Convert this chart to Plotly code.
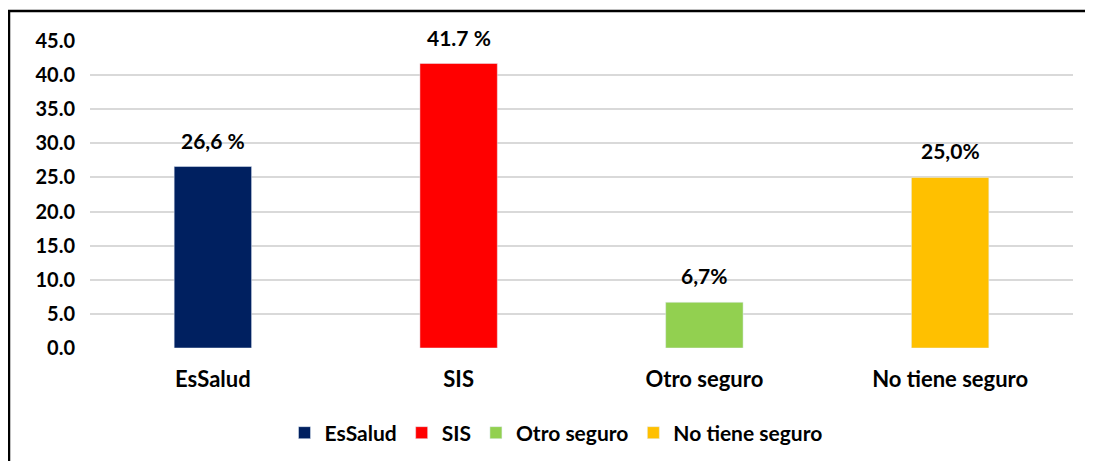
import plotly.graph_objects as go

categories = ["EsSalud", "SIS", "Otro seguro", "No tiene seguro"]
values = [26.6, 41.7, 6.7, 25.0]
labels = ["26,6 %", "41.7 %", "6,7%", "25,0%"]
colors = ["#002060", "#FF0000", "#92D050", "#FFC000"]
y_ticks = [0, 5, 10, 15, 20, 25, 30, 35, 40, 45]

FONT = "Lato"
# page body has an 8px margin, so the figure is sized/positioned to compensate
W, H = 1085, 453
L, R, T, B = 82, 20, 33, 113
pw = W - L - R
ph = H - T - B

fig = go.Figure()
for c, v, col in zip(categories, values, colors):
    fig.add_trace(go.Bar(x=[c], y=[v], name=c, marker_color=col, width=0.315,
                         hoverinfo="x+y"))

for c, v, lab in zip(categories, values, labels):
    fig.add_annotation(x=c, y=v, text=lab, showarrow=False, yanchor="bottom",
                       yshift=12, font=dict(family=FONT, size=21, color="#000000", weight="bold"))

# outer border
fig.add_shape(type="rect", xref="paper", yref="paper",
              x0=(1 - L) / pw, x1=(W + 20 - L) / pw,
              y0=-1.0, y1=(H - B - 3) / ph,
              line=dict(color="#000000", width=2.5), fillcolor="rgba(0,0,0,0)", layer="above")

fig.update_layout(
    width=W, height=H,
    margin=dict(l=L, r=R, t=T, b=B, autoexpand=False),
    plot_bgcolor="white", paper_bgcolor="white",
    barmode="overlay",
    font=dict(family=FONT, size=20, color="#000000", weight="bold"),
    showlegend=True,
    legend=dict(orientation="h", x=(548 - L) / pw, xanchor="center", y=(H - B - 425) / ph,
                yanchor="middle",
                font=dict(family=FONT, size=21, color="#000000", weight="bold"),
                itemwidth=30, traceorder="normal"),
    xaxis=dict(categoryorder="array", categoryarray=categories, showgrid=False,
               showline=False, ticks="", tickfont=dict(family=FONT, size=22, weight="bold"),
               ticklabelstandoff=16, automargin=False),
    yaxis=dict(range=[0, 45], tickvals=y_ticks, tickformat=".1f", showgrid=True,
               gridcolor="#D9D9D9", gridwidth=1.5, zeroline=False, showline=False,
               tickfont=dict(family=FONT, size=20, weight="bold"), ticklabelstandoff=14,
               automargin=False),
)

fig.write_html("out.html")
